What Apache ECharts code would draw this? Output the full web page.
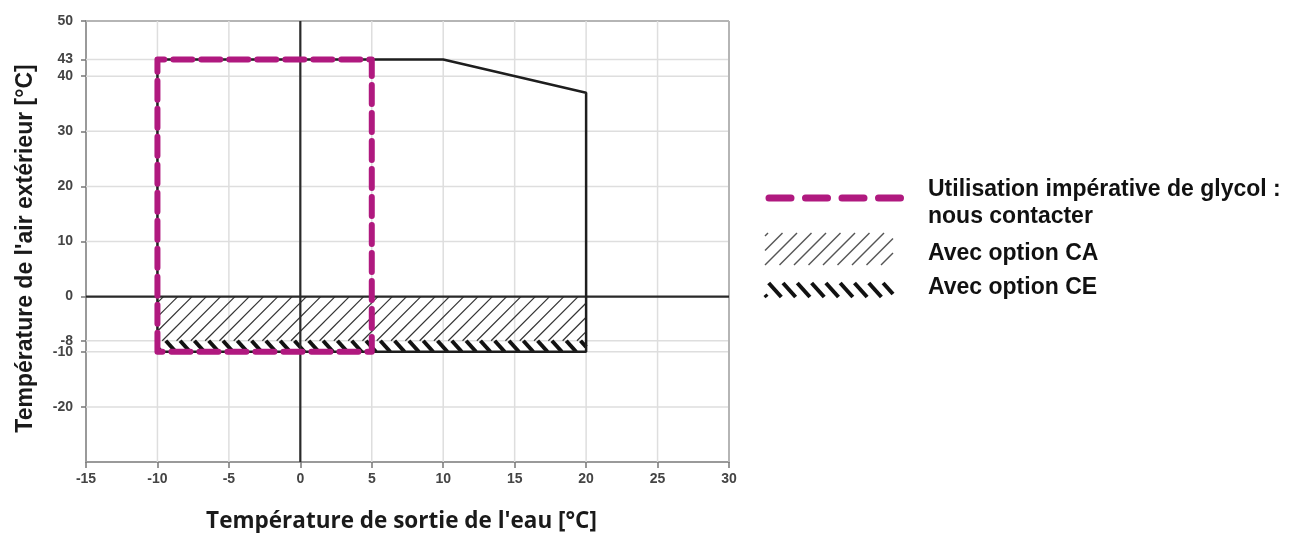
<!DOCTYPE html>
<html><head><meta charset="utf-8">
<script src="https://cdn.jsdelivr.net/npm/echarts@6/dist/echarts.min.js"></script>
<style>html,body{margin:0;padding:0;background:#fff}#c{width:1290px;height:533px}</style>
</head><body><div id="c"></div>
<script>
// ---- data ----
const xTicks = [-15, -10, -5, 0, 5, 10, 15, 20, 25, 30];
const yTicks = [50, 43, 40, 30, 20, 10, 0, -8, -10, -20];
const xRange = [-15, 30];
const yRange = [-30, 50];
// operating envelope (black outline)
const envelopeX = [-10, -10, 10, 20, 20, -10];
const envelopeY = [-10, 43, 43, 37, -10, -10];
// glycol mandatory zone (magenta dashed)
const glycolX = [-10, -10, 5, 5, -10];
const glycolY = [-10, 43, 43, -10, -10];
// option zones [xStart, yStart, xEnd, yEnd]
const zoneCA = [-10, -8, 20, 0];
const zoneCE = [-10, -10, 20, -8];
const legendTexts = ['Utilisation impérative de glycol :', 'nous contacter', 'Avec option CA', 'Avec option CE'];

const MAGENTA = '#b0197f';

function zip(xs, ys) { return xs.map((x, i) => [x, ys[i]]); }

// Liang-Barsky clip
function clip(x1, y1, x2, y2, l, t, r, b) {
  let t0 = 0, t1 = 1; const dx = x2 - x1, dy = y2 - y1;
  const p = [-dx, dx, -dy, dy], q = [x1 - l, r - x1, y1 - t, b - y1];
  for (let i = 0; i < 4; i++) {
    if (p[i] === 0) { if (q[i] < 0) return null; }
    else { const u = q[i] / p[i]; if (p[i] < 0) { if (u > t1) return null; if (u > t0) t0 = u; } else { if (u < t0) return null; if (u < t1) t1 = u; } }
  }
  return [x1 + t0 * dx, y1 + t0 * dy, x1 + t1 * dx, y1 + t1 * dy];
}
// hatch lines inside pixel rect; dir 1 = '/', -1 = '\'
function hatch(l, t, r, b, step, slope, dir, style, offset) {
  const H = b - t, W = H * slope, out = [];
  for (let c = l - W - step + (offset || 0); c < r + step; c += step) {
    let seg = dir > 0 ? clip(c, b, c + W, t, l, t, r, b) : clip(c, t, c + W, b, l, t, r, b);
    if (seg) out.push({ type: 'line', shape: { x1: seg[0], y1: seg[1], x2: seg[2], y2: seg[3] }, style: style, silent: true });
  }
  return out;
}
const caStyle = { stroke: '#333', lineWidth: 1.2 };
const ceStyle = { stroke: '#111', lineWidth: 4 };
const caLegStyle = { stroke: '#555', lineWidth: 1.5 };

const gridData = yTicks.map(v => [0, v]).concat(xTicks.filter(v => v > xRange[0]).map(v => [1, v]));

const legendFont = 'bold 23px "Liberation Sans"';
const chart = echarts.init(document.getElementById('c'), null, { renderer: 'canvas' });
chart.setOption({
  animation: false,
  grid: { left: 86, right: 561, top: 21, bottom: 71, containLabel: false, outerBoundsMode: 'none' },
  xAxis: {
    type: 'value', min: xRange[0], max: xRange[1], interval: 5,
    name: "Température de sortie de l'eau [°C]", nameLocation: 'middle', nameGap: 48,
    nameTextStyle: { fontFamily: 'Open Sans', fontWeight: 'bold', fontSize: 22.5, color: '#1a1a1a', padding: [0, 12, 0, 0] },
    axisLine: { show: true, onZero: false, lineStyle: { color: '#9a9a9a', width: 2 } },
    axisTick: { show: true, length: 6, lineStyle: { color: '#777', width: 1.5 } },
    axisLabel: { fontFamily: 'Liberation Sans', fontWeight: 'bold', fontSize: 14, color: '#444', margin: 10 },
    splitLine: { show: false }
  },
  yAxis: {
    type: 'value', min: yRange[0], max: yRange[1], interval: 10,
    name: "Température de l'air extérieur [°C]", nameLocation: 'middle', nameGap: 49, nameRotate: 90,
    nameTextStyle: { fontFamily: 'Liberation Sans', fontWeight: 'bold', fontSize: 23, color: '#1a1a1a', padding: [0, 14, 0, 0] },
    axisLine: { show: true, onZero: false, lineStyle: { color: '#9a9a9a', width: 2 } },
    axisTick: { show: true, length: 5, customValues: yTicks, lineStyle: { color: '#777', width: 1.5 } },
    axisLabel: { customValues: yTicks, fontFamily: 'Liberation Sans', fontWeight: 'bold', fontSize: 14, color: '#444', margin: 13 },
    splitLine: { show: false }
  },
  series: [
    { type: 'custom', silent: true, z: 1, encode: { x: 1, y: 1 }, data: gridData,
      renderItem: (p, api) => {
        const k = api.value(0), v = api.value(1); let a, b;
        if (k === 0) { a = api.coord([xRange[0], v]); b = api.coord([xRange[1], v]); }
        else { a = api.coord([v, yRange[0]]); b = api.coord([v, yRange[1]]); }
        const edge = (k === 0 && v === yRange[1]) || (k === 1 && v === xRange[1]);
        return { type: 'line', shape: { x1: a[0], y1: a[1], x2: b[0], y2: b[1] }, style: { stroke: edge ? '#b5b5b5' : '#dedede', lineWidth: edge ? 2 : 1.5 } };
      } },
    { type: 'custom', silent: true, z: 2, encode: { x: [0, 2], y: [1, 3] }, data: [zoneCA],
      renderItem: (p, api) => {
        const a = api.coord([api.value(0), api.value(3)]), b = api.coord([api.value(2), api.value(1)]);
        return { type: 'group', children: hatch(a[0], a[1], b[0], b[1], 14.3, 1.0, 1, caStyle, 6) };
      } },
    { type: 'custom', silent: true, z: 2, encode: { x: [0, 2], y: [1, 3] }, data: [zoneCE],
      renderItem: (p, api) => {
        const a = api.coord([api.value(0), api.value(3)]), b = api.coord([api.value(2), api.value(1)]);
        return { type: 'group', children: hatch(a[0], a[1], b[0], b[1], 14.3, 0.9, -1, ceStyle, 4) };
      } },
    { type: 'line', silent: true, z: 3, symbol: 'none', data: [[0, yRange[0]], [0, yRange[1]]], lineStyle: { color: '#2a2a2a', width: 2.2 } },
    { type: 'line', silent: true, z: 3, symbol: 'none', data: [[xRange[0], 0], [xRange[1], 0]], lineStyle: { color: '#2a2a2a', width: 2.2 } },
    { type: 'line', silent: true, z: 4, symbol: 'none', data: zip(envelopeX, envelopeY), lineStyle: { color: '#1e1e1e', width: 2.5 } },
    { type: 'line', silent: true, z: 5, symbol: 'none', data: zip(glycolX, glycolY),
      lineStyle: { color: MAGENTA, width: 6, type: [19, 9], cap: 'round', join: 'round' } }
  ],
  graphic: [
    { type: 'line', shape: { x1: 769, y1: 198, x2: 905, y2: 198 }, style: { stroke: MAGENTA, lineWidth: 7, lineDash: [22, 14.5], lineCap: 'round' }, silent: true },
    { type: 'group', silent: true, children: hatch(765, 233, 893, 265, 14.5, 1.0, 1, caLegStyle, 3) },
    { type: 'group', silent: true, children: hatch(765, 283, 893, 297, 14.3, 0.9, -1, ceStyle, 2) },
    { type: 'text', x: 928, y: 190, style: { text: legendTexts[0], font: legendFont, fill: '#111', verticalAlign: 'middle' } },
    { type: 'text', x: 928, y: 217, style: { text: legendTexts[1], font: legendFont, fill: '#111', verticalAlign: 'middle' } },
    { type: 'text', x: 928, y: 253.5, style: { text: legendTexts[2], font: legendFont, fill: '#111', verticalAlign: 'middle' } },
    { type: 'text', x: 928, y: 287.5, style: { text: legendTexts[3], font: legendFont, fill: '#111', verticalAlign: 'middle' } }
  ]
});
</script></body></html>
